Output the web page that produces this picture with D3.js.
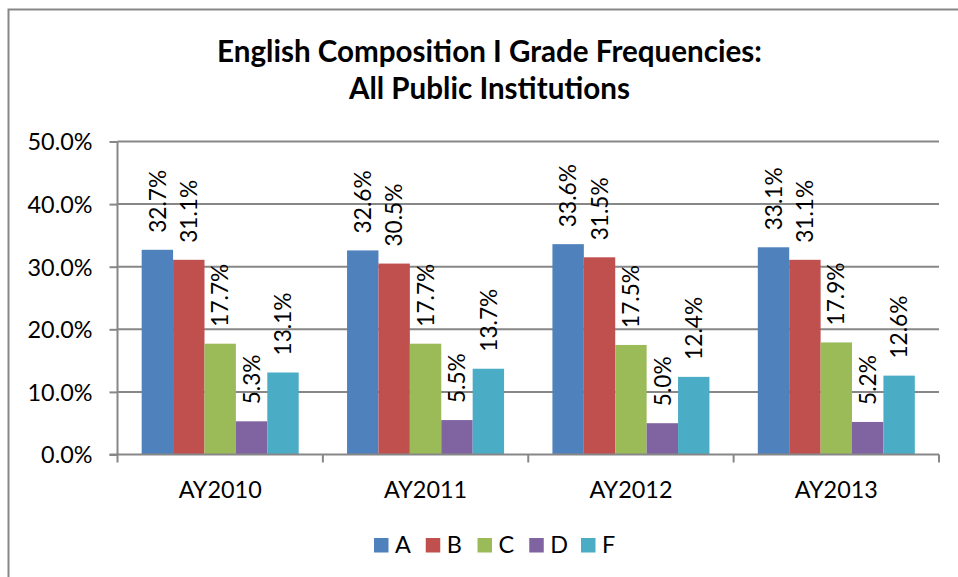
<!DOCTYPE html>
<html>
<head>
<meta charset="utf-8">
<script src="https://cdn.jsdelivr.net/npm/d3@7"></script>
<style>
  html, body { margin: 0; padding: 0; background: #fff; }
  svg { display: block; }
  text { font-family: Lato, "Open Sans", sans-serif; fill: #000; }
</style>
</head>
<body>
<svg id="chart" width="958" height="577"></svg>
<script>
// ---- data ----
const titleLines = ["English Composition I Grade Frequencies:", "All Public Institutions"];
const categories = ["AY2010", "AY2011", "AY2012", "AY2013"];
const series = ["A", "B", "C", "D", "F"];
const valuesA = [32.7, 32.6, 33.6, 33.1];
const valuesB = [31.1, 30.5, 31.5, 31.1];
const valuesC = [17.7, 17.7, 17.5, 17.9];
const valuesD = [5.3, 5.5, 5.0, 5.2];
const valuesF = [13.1, 13.7, 12.4, 12.6];
const yTicks = [0, 10, 20, 30, 40, 50];
const colors = ["#4F81BD", "#C0504D", "#9BBB59", "#8064A2", "#4BACC6"];

const seriesValues = [valuesA, valuesB, valuesC, valuesD, valuesF];
const rows = [];
categories.forEach((c, ci) => series.forEach((s, si) => rows.push({cat: c, ser: s, val: seriesValues[si][ci], si})));

const svg = d3.select("#chart");
const gridColor = "#878787";

// outer chart border
svg.append("rect").attr("x", 8.5).attr("y", 9.5).attr("width", 980).attr("height", 600)
  .attr("fill", "none").attr("stroke", gridColor).attr("stroke-width", 2);

// helper to fit font-size so a text matches a target width
function fitSize(str, weight, target) {
  const t = svg.append("text").attr("font-size", 100).attr("font-weight", weight).text(str);
  const w = t.node().getComputedTextLength();
  t.remove();
  return 100 * target / w;
}

const plotLeft = 117.5, plotRight = 939, plotTop = 141.5, plotBottom = 454.5;
const x = d3.scaleBand().domain(categories).range([plotLeft, plotRight]).paddingInner(0).paddingOuter(0);
const xi = d3.scaleBand().domain(series).range([0, x.bandwidth()]).paddingInner(0).paddingOuter(0.77);
const y = d3.scaleLinear().domain([0, 50]).range([plotBottom, plotTop]);

// title
const titleSize = fitSize(titleLines[0], "bold", 545);
svg.append("g").selectAll("text").data(titleLines).join("text")
  .attr("x", 489.5).attr("y", (d, i) => 62 + i * 37)
  .attr("text-anchor", "middle").attr("font-weight", "bold")
  .attr("font-size", titleSize).text(d => d);

const tickSize = fitSize("50.0%", "normal", 65);

// gridlines
svg.append("g").selectAll("line").data(yTicks.filter(d => d > 0)).join("line")
  .attr("x1", plotLeft).attr("x2", plotRight).attr("y1", d => y(d)).attr("y2", d => y(d))
  .attr("stroke", gridColor).attr("stroke-width", 2);

// y axis
const yAxis = svg.append("g").attr("transform", `translate(${plotLeft},0)`)
  .call(d3.axisLeft(y).tickValues(yTicks).tickSizeInner(8).tickSizeOuter(0).tickPadding(17)
    .tickFormat(d => d.toFixed(1) + "%"));
yAxis.select(".domain").remove();
yAxis.selectAll("line").attr("stroke", gridColor).attr("stroke-width", 2);
yAxis.selectAll("text").attr("font-size", tickSize).attr("font-family", "Lato").attr("fill", "#000").attr("dy", "0.36em");
svg.append("line").attr("x1", plotLeft).attr("x2", plotLeft).attr("y1", plotTop).attr("y2", plotBottom + 8)
  .attr("stroke", gridColor).attr("stroke-width", 2);

// bars
svg.append("g").selectAll("rect").data(rows).join("rect")
  .attr("x", d => x(d.cat) + xi(d.ser)).attr("width", xi.bandwidth())
  .attr("y", d => y(d.val)).attr("height", d => y(0) - y(d.val))
  .attr("fill", d => colors[d.si]);

// x axis
svg.append("line").attr("x1", plotLeft - 8).attr("x2", plotRight).attr("y1", plotBottom).attr("y2", plotBottom)
  .attr("stroke", gridColor).attr("stroke-width", 2);
const bounds = categories.map(c => x(c)).concat([plotRight]);
svg.append("g").selectAll("line").data(bounds.slice(1)).join("line")
  .attr("x1", d => d).attr("x2", d => d).attr("y1", plotBottom).attr("y2", plotBottom + 8)
  .attr("stroke", gridColor).attr("stroke-width", 2);
const xAxis = svg.append("g").attr("transform", `translate(0,${plotBottom})`)
  .call(d3.axisBottom(x).tickSize(0).tickPadding(0));
xAxis.select(".domain").remove();
xAxis.selectAll("text").attr("font-size", tickSize).attr("font-family", "Lato").attr("fill", "#000")
  .attr("dy", null).attr("y", 43);

// data labels
const labelSize = fitSize("32.7%", "normal", 63);
svg.append("g").selectAll("text").data(rows).join("text")
  .attr("transform", d => `translate(${x(d.cat) + xi(d.ser) + xi.bandwidth() / 2},${y(d.val) - 17}) rotate(-90)`)
  .attr("dy", "0.36em").attr("font-size", labelSize)
  .text(d => d.val.toFixed(1) + "%");

// legend
const legendX = d3.scalePoint().domain(series).range([374, 581]);
const lg = svg.append("g").selectAll("g").data(series).join("g")
  .attr("transform", d => `translate(${legendX(d)},538)`);
lg.append("rect").attr("width", 14.5).attr("height", 14.5).attr("fill", (d, i) => colors[i]);
lg.append("text").attr("x", 21).attr("y", 14.5).attr("font-size", tickSize).text(d => d);
</script>
</body>
</html>
